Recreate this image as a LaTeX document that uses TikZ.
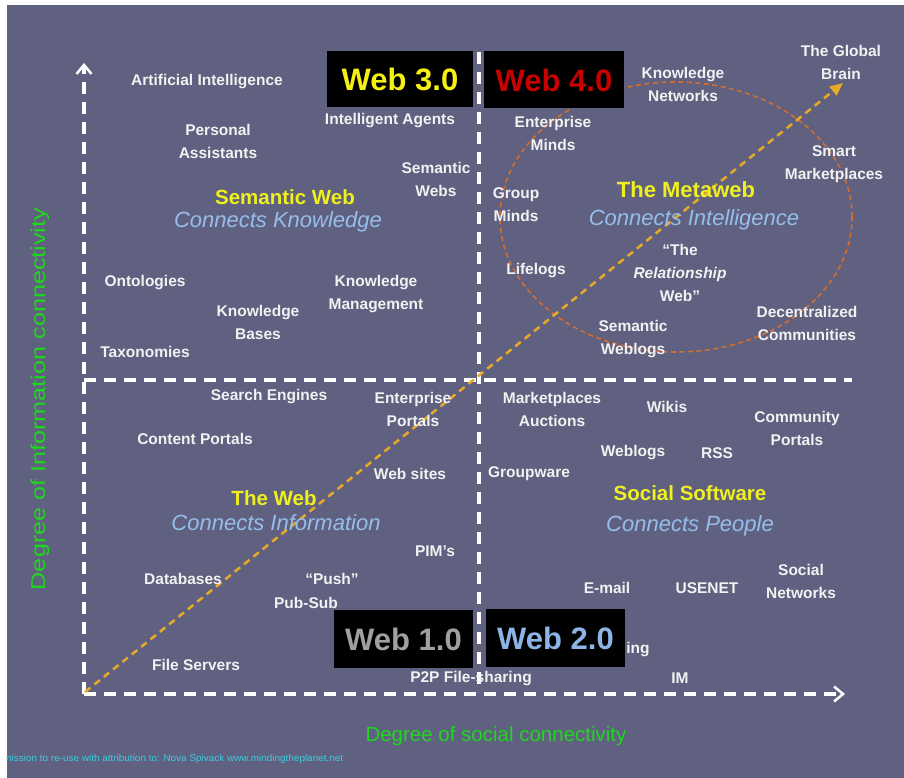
\documentclass[tikz,border=0pt]{standalone}
\usepackage{fontspec}
\setmainfont{Liberation Sans}
\usetikzlibrary{arrows.meta}
\definecolor{bg}{RGB}{96,96,128}
\definecolor{labwhite}{RGB}{242,242,242}
\definecolor{ttlyellow}{RGB}{240,240,30}
\definecolor{subblue}{RGB}{150,190,235}
\definecolor{axgreen}{RGB}{30,215,30}
\definecolor{diag}{RGB}{230,170,40}
\definecolor{ellcol}{RGB}{210,110,50}
\definecolor{credit}{RGB}{60,205,225}
\definecolor{wyellow}{RGB}{245,240,20}
\definecolor{wred}{RGB}{200,0,0}
\definecolor{wgray}{RGB}{160,160,160}
\definecolor{wblue}{RGB}{140,180,230}
\begin{document}
\begin{tikzpicture}[x=1pt,y=-1pt,
  lbl/.style={text=labwhite, font=\fontsize{15.5}{23}\selectfont\bfseries, align=center, inner sep=0pt},
  ttl/.style={text=ttlyellow, font=\fontsize{20.5}{24}\selectfont\bfseries, inner sep=0pt},
  sub/.style={text=subblue, font=\fontsize{22}{26}\selectfont\itshape, inner sep=0pt},
  webbox/.style={fill=black, inner sep=0pt, font=\fontsize{31}{31}\selectfont\bfseries},
  axisline/.style={draw=white, line width=3.5pt, dash pattern=on 12pt off 8pt},
  axtip/.style={-{Straight Barb[length=9pt,width=15pt,line width=2.5pt]}},
  diagline/.style={draw=diag, line width=2.5pt, dash pattern=on 7pt off 5pt, -{Triangle[length=13pt,width=11pt]}},
  ellline/.style={draw=ellcol, line width=1.6pt, dash pattern=on 5pt off 3.5pt}]
\useasboundingbox (0,0) rectangle (904,778);
\fill[white] (0,0) rectangle (904,778);
\fill[bg] (7,5) rectangle (904,778);
% coordinates
\coordinate (o) at (84,694);
\coordinate (ytop) at (84,63);
\coordinate (xend) at (845,694);
\coordinate (ml) at (84,380);
\coordinate (mr) at (852,380);
\coordinate (mt) at (479,52);
\coordinate (mb) at (479,692);
\coordinate (ds) at (85,692);
\coordinate (de) at (843,83);
\coordinate (ec) at (676,217);
% axes and quadrant lines
\draw[axisline,axtip] (o) -- (ytop);
\draw[axisline,axtip] (o) -- (xend);
\draw[axisline] (ml) -- (mr);
\draw[axisline] (mt) -- (mb);
% ellipse and diagonal
\draw[ellline] (ec) ellipse [x radius=176pt, y radius=135pt];
\draw[diagline] (ds) -- (de);
% boxes
\node[webbox, minimum width=146pt, minimum height=56pt, text=wyellow] (w3) at (400,79.5) {Web 3.0};
\node[webbox, minimum width=140pt, minimum height=57pt, text=wred] (w4) at (554,80) {Web 4.0};
\node[webbox, minimum width=139pt, minimum height=58pt, text=wgray] (w1) at (403.5,639) {Web 1.0};
\node[webbox, minimum width=139pt, minimum height=58pt, text=wblue] (w2) at (555.5,638) {Web 2.0};
% top-left quadrant
\node[lbl] (ai) at (207,82) {Artificial Intelligence};
\node[lbl] (pa) at (218,141) {Personal\\Assistants};
\node[lbl] (ia) at (390,121) {Intelligent Agents};
\node[lbl] (sw) at (436,179) {Semantic\\Webs};
\node[ttl] (semweb) at (285,197) {Semantic Web};
\node[sub] (ck) at (278,222) {Connects Knowledge};
\node[lbl] (ont) at (145,283) {Ontologies};
\node[lbl] (kb) at (258,322) {Knowledge\\Bases};
\node[lbl] (km) at (376,294) {Knowledge\\Management};
\node[lbl] (tax) at (145,352) {Taxonomies};
% top-right quadrant
\node[lbl] (gb) at (841,62) {The Global\\Brain};
\node[lbl] (kn) at (683,84) {Knowledge\\Networks};
\node[lbl] (em) at (553,133) {Enterprise\\Minds};
\node[lbl] (smk) at (834,164) {Smart\\Marketplaces};
\node[lbl] (gm) at (516,205) {Group\\Minds};
\node[ttl, font=\fontsize{22}{26}\selectfont\bfseries] (meta) at (686,190) {The Metaweb};
\node[sub] (ci) at (694,220) {Connects Intelligence};
\node[lbl] (rw) at (680,273) {“The\\\textit{Relationship}\\Web”};
\node[lbl] (ll) at (536,271) {Lifelogs};
\node[lbl] (swl) at (633,339) {Semantic\\Weblogs};
\node[lbl] (dc) at (807,323) {Decentralized\\Communities};
% bottom-left quadrant
\node[lbl] (se) at (269,397) {Search Engines};
\node[lbl] (ep) at (413,409) {Enterprise\\Portals};
\node[lbl] (cp) at (195,439) {Content Portals};
\node[lbl] (ws) at (410,474) {Web sites};
\node[ttl] (theweb) at (274,498) {The Web};
\node[sub] (cinf) at (276,523) {Connects Information};
\node[lbl] (pim) at (435,551) {PIM’s};
\node[lbl] (db) at (183,579) {Databases};
\node[lbl] (push) at (332,579) {“Push”};
\node[lbl] (ps) at (306,603) {Pub-Sub};
\node[lbl] (fs) at (196,665) {File Servers};
\node[lbl] (p2p) at (471,679) {P2P File-sharing};
% bottom-right quadrant
\node[lbl] (ma) at (552,409) {Marketplaces\\Auctions};
\node[lbl] (wik) at (667,407) {Wikis};
\node[lbl] (cop) at (797,428) {Community\\Portals};
\node[lbl] (wbl) at (633,453) {Weblogs};
\node[lbl] (rss) at (717,453) {RSS};
\node[lbl] (gw) at (529,474) {Groupware};
\node[ttl] (ss) at (690,493) {Social Software};
\node[sub] (cpe) at (690,526) {Connects People};
\node[lbl] (em2) at (607,588) {E-mail};
\node[lbl] (use) at (707,588) {USENET};
\node[lbl] (sn) at (801,581) {Social\\Networks};
\node[lbl] (ing) at (638,650) {ing};
\node[lbl] (im) at (680,678) {IM};
% axis labels
\node[text=axgreen, font=\fontsize{20.5}{22}\selectfont, inner sep=0pt] (xl) at (496,736) {Degree of social connectivity};
\node[text=axgreen, font=\fontsize{20}{22}\selectfont, inner sep=0pt, rotate=90] (yl) at (40,399) {\scalebox{1.26}[1]{Degree of Information connectivity}};
\node[text=credit, anchor=west, inner sep=0pt] (cr) at (6,759) {\resizebox{337pt}{7pt}{\fontsize{9}{9}\selectfont nission to re-use with attribution to: Nova Spivack www.mindingtheplanet.net}};
\end{tikzpicture}
\end{document}
